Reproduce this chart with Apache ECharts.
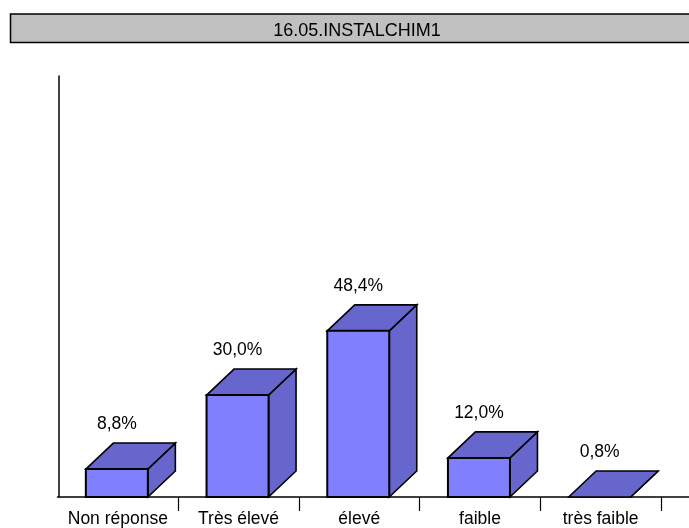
<!DOCTYPE html>
<html><head><meta charset="utf-8">
<style>html,body{margin:0;padding:0;background:#fff;overflow:hidden}#c{width:689px;height:528px}</style>
<script src="https://cdn.jsdelivr.net/npm/echarts@6/dist/echarts.min.js"></script>
</head><body><div id="c"></div>
<script>
const titleText = '16.05.INSTALCHIM1';
const categories = ['Non réponse', 'Très élevé', 'élevé', 'faible', 'très faible'];
const values = [8.8, 30.0, 48.4, 12.0, 0.8];
const valueLabels = ['8,8%', '30,0%', '48,4%', '12,0%', '0,8%'];

const FONT = '"Liberation Sans", Arial, sans-serif';
const chart = echarts.init(document.getElementById('c'), null, {renderer: 'canvas'});
const W = 62, DX = 27.5, DY = 26, LW = 1.6, FS = 17.5;

function renderBar(params, api) {
  const i = api.value(0), v = api.value(1);
  const base = api.coord([i, 0.8]);
  const top = api.coord([i, v]);
  const cx = base[0] - 1;
  const l = cx - W / 2, r = cx + W / 2, b = base[1], t = top[1];
  const st = {stroke: '#000', lineWidth: LW, lineJoin: 'miter'};
  const children = [
    {type: 'polygon', shape: {points: [[r, b], [r + DX, b - DY], [r + DX, t - DY], [r, t]]},
      style: Object.assign({fill: '#6666cc'}, st)},
    {type: 'polygon', shape: {points: [[l, t], [l + DX, t - DY], [r + DX, t - DY], [r, t]]},
      style: Object.assign({fill: '#6666cc'}, st)}
  ];
  if (b - t > 0.5) {
    children.push({type: 'rect', shape: {x: l, y: t, width: W, height: b - t},
      style: Object.assign({fill: '#8080ff'}, st, {lineWidth: 2})});
  }
  children.push({type: 'text', style: {
    x: cx, y: t - 45, text: valueLabels[params.dataIndex], align: 'center', verticalAlign: 'middle',
    fill: '#000', font: FS + 'px ' + FONT}});
  return {type: 'group', children};
}

chart.setOption({
  animation: false,
  backgroundColor: '#fff',
  title: {text: titleText, left: 352, top: 17, textAlign: 'center',
    textStyle: {fontFamily: FONT, fontSize: 18, fontWeight: 'normal', color: '#000'}},
  graphic: [
    {type: 'rect', z: -1, shape: {x: 10.5, y: 14, width: 700, height: 28.5},
      style: {fill: '#c0c0c0', stroke: '#000', lineWidth: 1.5}},
    {type: 'line', shape: {x1: 661, y1: 497, x2: 689, y2: 497},
      style: {stroke: '#000', lineWidth: 1.5}}
  ],
  grid: {left: 57.5, top: 76, width: 603.5, height: 422},
  xAxis: {type: 'category', data: categories, boundaryGap: true,
    axisLine: {lineStyle: {color: '#000', width: 1.5}},
    axisTick: {show: true, length: 14, alignWithLabel: false, interval: (index) => index !== 0,
      lineStyle: {color: '#000', width: 1.2}},
    axisLabel: {fontFamily: FONT, fontSize: FS, color: '#000', margin: 13, interval: 0}},
  yAxis: {type: 'value', min: 0.8, max: 121.4, offset: -1,
    axisLine: {show: true, onZero: false, lineStyle: {color: '#000', width: 1.5}},
    axisTick: {show: false}, axisLabel: {show: false}, splitLine: {show: false}},
  series: [{type: 'custom', renderItem: renderBar, clip: false, encode: {x: 0, y: 1},
    data: values.map((v, i) => [i, v])}]
});
</script></body></html>
